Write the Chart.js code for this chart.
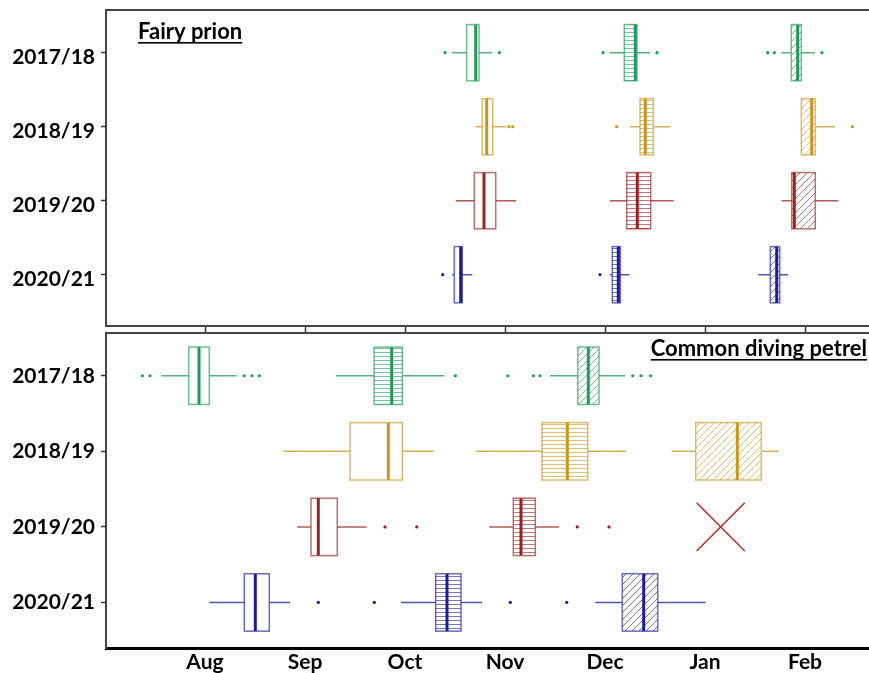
<!DOCTYPE html>
<html>
<head>
<meta charset="utf-8">
<title>Fairy prion / Common diving petrel</title>
<script src="https://cdn.jsdelivr.net/npm/chart.js@4.4.1/dist/chart.umd.min.js"></script>
<style>
    html, body { margin: 0; padding: 0; background: #fff; overflow: hidden; }
    #wrap { position: relative; width: 869px; height: 673px; }
    canvas { position: absolute; left: 0; }
    #prionChart { top: 0; }
    #petrelChart { top: 332px; }
</style>
</head>
<body>
<div id="wrap">
    <canvas id="prionChart" width="869" height="332"></canvas>
    <canvas id="petrelChart" width="869" height="341"></canvas>
</div>
<script>
// Axis labels (x values are months, 0 = Aug)
const seasons = ['2017/18', '2018/19', '2019/20', '2020/21'];
const months = ['Aug', 'Sep', 'Oct', 'Nov', 'Dec', 'Jan', 'Feb'];

// Box values per season: [whisker low, q1, median, q3, whisker high]
// Fairy prion
const prionTrip1 = [
    [2.47, 2.617, 2.707, 2.74, 2.87],
    [2.707, 2.773, 2.817, 2.877, 3.01],
    [2.507, 2.693, 2.79, 2.907, 3.11],
    [2.473, 2.493, 2.557, 2.573, 2.673]
];
const prionTrip2 = [
    [4.05, 4.193, 4.303, 4.32, 4.45],
    [4.25, 4.35, 4.403, 4.483, 4.653],
    [4.05, 4.217, 4.323, 4.457, 4.687],
    [4.05, 4.073, 4.133, 4.153, 4.243]
];
const prionTrip3 = [
    [5.763, 5.863, 5.927, 5.963, 6.10],
    [5.963, 5.963, 6.067, 6.103, 6.30],
    [5.767, 5.867, 5.893, 6.103, 6.333],
    [5.533, 5.653, 5.717, 5.747, 5.83]
];
const prionOutliers = [
    [2.40, 2.943, 3.98, 4.52, 5.627, 5.693, 6.17],
    [3.04, 3.077, 4.117, 6.473],
    [],
    [2.377, 3.95]
];
const prionMissing = [null, null, null, null];

// Common diving petrel
const petrelTrip1 = [
    [-0.437, -0.163, -0.06, 0.043, 0.317],
    [0.783, 1.45, 1.833, 1.973, 2.287],
    [0.923, 1.06, 1.133, 1.323, 1.617],
    [0.043, 0.393, 0.503, 0.643, 0.85]
];
const petrelTrip2 = [
    [1.307, 1.69, 1.867, 1.973, 2.393],
    [2.707, 3.37, 3.623, 3.827, 4.21],
    [2.843, 3.083, 3.16, 3.303, 3.54],
    [1.96, 2.307, 2.42, 2.56, 2.77]
];
const petrelTrip3 = [
    [3.45, 3.727, 3.833, 3.94, 4.20],
    [4.667, 4.907, 5.323, 5.563, 5.737],
    null,
    [3.903, 4.173, 4.387, 4.527, 5.007]
];
const petrelOutliers = [
    [-0.627, -0.55, 0.393, 0.47, 0.543, 2.503, 3.027, 3.283, 3.35, 4.277, 4.36, 4.457],
    [],
    [1.80, 2.117, 3.723, 4.04],
    [1.133, 1.693, 3.053, 3.617]
];
// Trip with no data (drawn as a cross)
const petrelMissing = [null, null, 5.157, null];

// Season colours
const seasonRGB = [[31, 154, 90], [200, 150, 30], [155, 34, 34], [28, 28, 154]];
const rgba = (i, a) => `rgba(${seasonRGB[i].join(',')},${a})`;

const BOX_HALF = 0.38;
const FONT = 'Lato, "Open Sans", sans-serif';

// Hatch pattern for the box fill
function makeHatch(ctx, kind, color) {
    const c = document.createElement('canvas');
    let g;
    if (kind === 'horizontal') {
        c.width = 8; c.height = 4;
        g = c.getContext('2d');
        g.strokeStyle = color;
        g.lineWidth = 1;
        g.beginPath();
        g.moveTo(0, 0.5); g.lineTo(8, 0.5);
    } else {
        const s = 7;
        c.width = s; c.height = s;
        g = c.getContext('2d');
        g.strokeStyle = color;
        g.lineWidth = 1;
        g.beginPath();
        g.moveTo(0, s); g.lineTo(s, 0);
        g.moveTo(-1, 1); g.lineTo(1, -1);
        g.moveTo(s - 1, s + 1); g.lineTo(s + 1, s - 1);
    }
    g.stroke();
    return ctx.createPattern(c, 'repeat');
}

// Box plot plugin: boxes, whiskers and medians from the trip arrays
function boxPlugin(trips) {
    const fills = ['none', 'horizontal', 'diagonal'];
    return {
        id: 'boxes',
        afterDatasetsDraw(chart) {
            const { ctx, scales: { x, y } } = chart;
            ctx.save();
            trips.forEach((trip, t) => {
                trip.forEach((b, s) => {
                    if (!b) return;
                    const yc = y.getPixelForValue(s);
                    const h = Math.abs(y.getPixelForValue(s + BOX_HALF) - yc);
                    const [lo, q1, med, q3, hi] = b.map(v => x.getPixelForValue(v));

                    // whiskers
                    ctx.strokeStyle = rgba(s, 0.75);
                    ctx.lineWidth = 1.5;
                    ctx.beginPath();
                    ctx.moveTo(lo, yc); ctx.lineTo(q1, yc);
                    ctx.moveTo(q3, yc); ctx.lineTo(hi, yc);
                    ctx.stroke();

                    // box fill
                    ctx.fillStyle = '#fff';
                    ctx.fillRect(q1, yc - h, q3 - q1, 2 * h);
                    if (fills[t] !== 'none') {
                        ctx.fillStyle = makeHatch(ctx, fills[t], rgba(s, 0.6));
                        ctx.fillRect(q1, yc - h, q3 - q1, 2 * h);
                    }

                    // box outline
                    ctx.strokeStyle = rgba(s, 0.65);
                    ctx.lineWidth = 1.5;
                    ctx.strokeRect(q1, yc - h, q3 - q1, 2 * h);

                    // median
                    ctx.strokeStyle = rgba(s, 1);
                    ctx.lineWidth = 3;
                    ctx.beginPath();
                    ctx.moveTo(med, yc - h); ctx.lineTo(med, yc + h);
                    ctx.stroke();
                });
            });
            ctx.restore();
        }
    };
}

// Top frame line of each panel (the right side stays open)
const framePlugin = {
    id: 'frame',
    afterDraw(chart) {
        const { ctx, chartArea: a } = chart;
        ctx.save();
        ctx.clearRect(a.right - 4, a.top + 2, 4, a.bottom - a.top - 4);
        ctx.strokeStyle = '#444';
        ctx.lineWidth = 2;
        ctx.beginPath();
        ctx.moveTo(a.left, a.top); ctx.lineTo(a.right, a.top);
        ctx.stroke();
        ctx.restore();
    }
};

// Underlined panel title
function titlePlugin(text, px, py, align) {
    return {
        id: 'panelTitle',
        afterDraw(chart) {
            const ctx = chart.ctx;
            ctx.save();
            ctx.font = `bold 22px ${FONT}`;
            ctx.fillStyle = '#000';
            ctx.textAlign = align;
            ctx.textBaseline = 'alphabetic';
            ctx.fillText(text, px, py);
            const w = ctx.measureText(text).width;
            const x0 = align === 'right' ? px - w : px;
            ctx.fillRect(x0, py + 3, w, 1.6);
            ctx.restore();
        }
    };
}

function buildChart(canvasId, cfg) {
    const datasets = cfg.outliers.map((list, s) => ({
        data: list.map(v => ({ x: v, y: s })),
        pointRadius: 1.6,
        pointHoverRadius: 1.6,
        backgroundColor: rgba(s, 1),
        borderWidth: 0
    }));
    datasets.push({
        data: cfg.missing.map((v, s) => (v === null ? null : { x: v, y: s })).filter(Boolean),
        pointStyle: 'crossRot',
        pointRadius: 34,
        pointHoverRadius: 34,
        borderColor: '#c0282a',
        borderWidth: 1.5,
        backgroundColor: 'transparent'
    });

    return new Chart(document.getElementById(canvasId), {
        type: 'scatter',
        data: { datasets },
        options: {
            responsive: false,
            animation: false,
            devicePixelRatio: 1,
            layout: { padding: cfg.padding, autoPadding: false },
            plugins: { legend: { display: false }, tooltip: { enabled: false } },
            scales: {
                x: {
                    type: 'linear',
                    min: -0.99,
                    max: 6.64,
                    afterBuildTicks: s => { s.ticks = months.map((_, i) => ({ value: i })); },
                    afterFit: s => {
                        s.height = cfg.xHeight;
                        s.paddingLeft = 0;
                        s.paddingRight = 0;
                    },
                    ticks: {
                        display: cfg.showMonths,
                        autoSkip: false,
                        maxRotation: 0,
                        padding: 0,
                        color: '#000',
                        font: { family: FONT, weight: 'bold', size: 21 },
                        callback: v => months[v]
                    },
                    grid: {
                        drawOnChartArea: false,
                        tickLength: cfg.xTickLength,
                        tickWidth: 1.5,
                        tickColor: '#333'
                    },
                    border: { color: cfg.xBorderColor, width: cfg.xBorderWidth }
                },
                y: {
                    type: 'linear',
                    reverse: true,
                    min: cfg.yMin,
                    max: cfg.yMax,
                    afterBuildTicks: s => { s.ticks = seasons.map((_, i) => ({ value: i })); },
                    afterFit: s => {
                        s.width = 106;
                        s.paddingTop = 0;
                        s.paddingBottom = 0;
                    },
                    ticks: {
                        autoSkip: false,
                        padding: 6,
                        labelOffset: cfg.labelOffset,
                        color: '#000',
                        font: { family: FONT, weight: 'bold', size: 21 },
                        callback: v => seasons[v]
                    },
                    grid: {
                        drawOnChartArea: false,
                        tickLength: 5,
                        tickWidth: 1.5,
                        tickColor: '#333'
                    },
                    border: { color: '#444', width: 2 }
                }
            }
        },
        plugins: [boxPlugin(cfg.trips), framePlugin, titlePlugin(cfg.title, cfg.titleX, cfg.titleY, cfg.titleAlign)]
    });
}

// Fairy prion panel
buildChart('prionChart', {
    trips: [prionTrip1, prionTrip2, prionTrip3],
    outliers: prionOutliers,
    missing: prionMissing,
    padding: { top: 10, left: 0, right: 0, bottom: 0 },
    yMin: -0.577,
    yMax: 3.693,
    labelOffset: 5,
    xHeight: 6,
    xTickLength: 6,
    showMonths: false,
    xBorderColor: '#444',
    xBorderWidth: 2,
    title: 'Fairy prion',
    titleX: 138,
    titleY: 39,
    titleAlign: 'left'
});

// Common diving petrel panel
buildChart('petrelChart', {
    trips: [petrelTrip1, petrelTrip2, petrelTrip3],
    outliers: petrelOutliers,
    missing: petrelMissing,
    padding: { top: 1, left: 0, right: 0, bottom: 0 },
    yMin: -0.566,
    yMax: 3.603,
    labelOffset: 0,
    xHeight: 25,
    xTickLength: 2,
    showMonths: true,
    xBorderColor: '#000',
    xBorderWidth: 3,
    title: 'Common diving petrel',
    titleX: 867,
    titleY: 24,
    titleAlign: 'right'
});
</script>
</body>
</html>
